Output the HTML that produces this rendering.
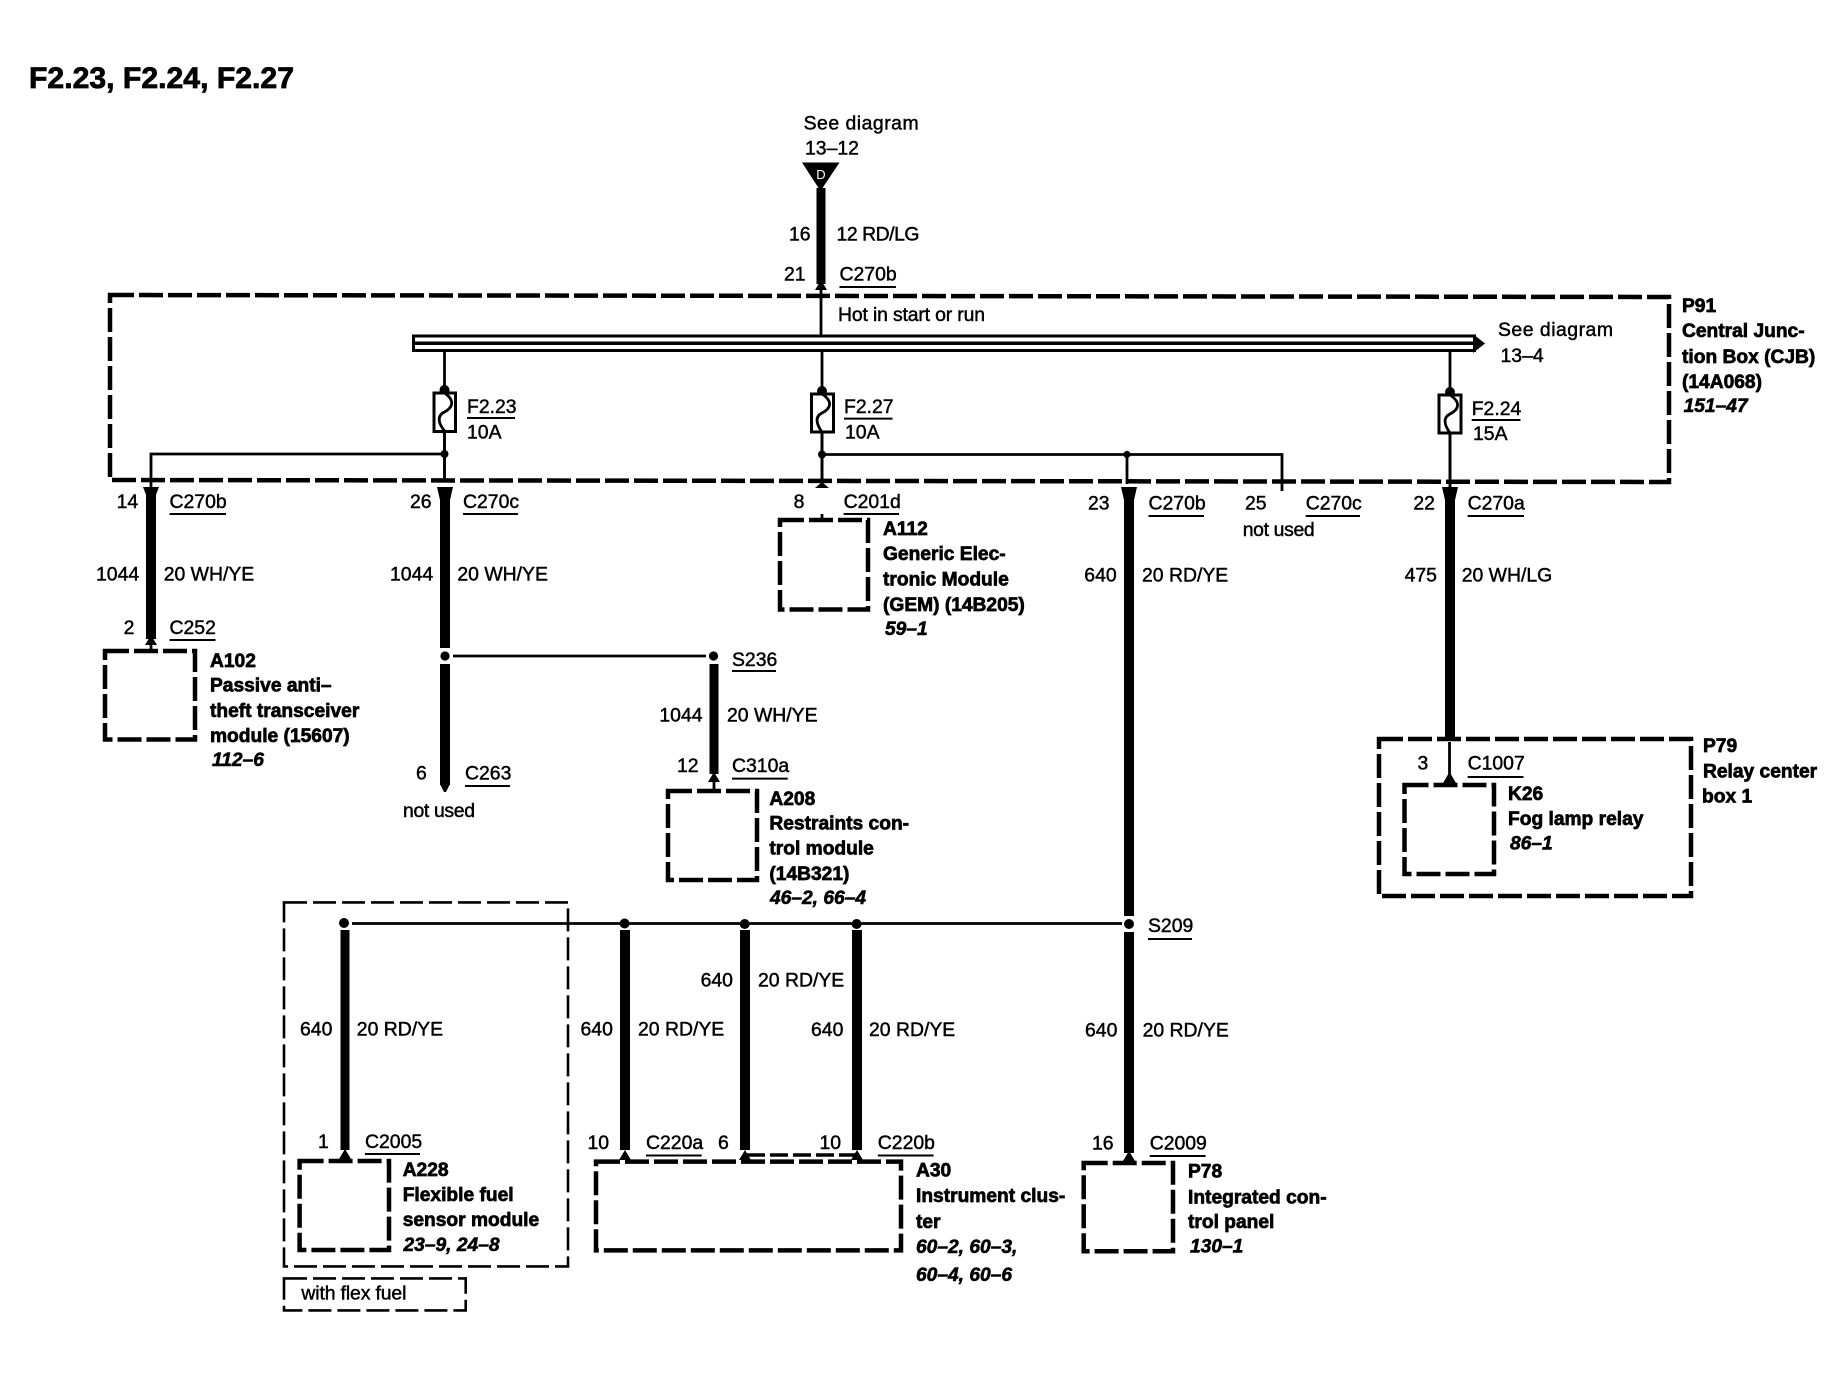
<!DOCTYPE html>
<html><head><meta charset="utf-8"><title>F2.23, F2.24, F2.27</title>
<style>
html,body{margin:0;padding:0;background:#fff;width:1846px;height:1392px;overflow:hidden}
svg{display:block}
text{font-family:"Liberation Sans",sans-serif;font-size:19.4px;fill:#000;stroke:#000;stroke-width:.45}
.b{font-weight:bold;font-size:19.2px;stroke-width:.7}
.i{font-weight:bold;font-style:italic;font-size:19.2px;stroke-width:.6}
.box{fill:none;stroke:#000;stroke-width:4.5;stroke-dasharray:24 5}
.thin{fill:none;stroke:#000;stroke-width:2.6;stroke-dasharray:23 6}
.w{stroke:#000;stroke-width:2.8;fill:none}
.t{stroke:#000;stroke-width:10;fill:none}
.u{stroke:#000;stroke-width:2;fill:none}
</style></head><body>
<svg width="1846" height="1392" viewBox="0 0 1846 1392" xmlns="http://www.w3.org/2000/svg">
<rect width="1846" height="1392" fill="#fff"/>

<text x="29" y="88" textLength="265" lengthAdjust="spacingAndGlyphs" style="font-size:30px;font-weight:bold;stroke-width:.8">F2.23, F2.24, F2.27</text>

<!-- dashed boxes -->
<path class="box" d="M110,295 L1669,297 L1669,482 L110,480 Z"/>
<rect class="box" x="105" y="651" width="90" height="88.5"/>
<rect class="box" x="780" y="520" width="88" height="89.5"/>
<rect class="box" x="668" y="791" width="89" height="89"/>
<rect class="box" x="1379" y="739" width="312" height="157"/>
<rect class="box" x="1404.5" y="785" width="89.5" height="89"/>
<rect class="box" x="299.6" y="1161" width="89.4" height="89"/>
<rect class="box" x="596" y="1161.6" width="305" height="88.8"/>
<rect class="box" x="1083.7" y="1163" width="89.3" height="88.3"/>
<rect class="thin" x="284" y="902.4" width="284" height="364"/>
<rect class="thin" x="284" y="1278.4" width="181.7" height="32"/>
<path d="M747,1155 H860" stroke="#000" stroke-width="3.5" stroke-dasharray="18 5" fill="none"/>

<!-- top feed -->
<polygon points="802,162.5 839.5,162.5 820.5,191" fill="#000"/>
<text x="821" y="179" text-anchor="middle" style="font-size:13px;fill:#fff;stroke:none">D</text>
<path class="t" d="M821,188 V284" style="stroke-width:9"/>
<polygon points="815,290 821,280 827,290" fill="#000"/>
<path class="w" d="M821,288 V336"/>

<!-- bus -->
<rect x="413.5" y="336" width="1061" height="14.5" fill="#fff" stroke="#000" stroke-width="3"/>
<path d="M413,343.2 H1476" stroke="#000" stroke-width="3.5" fill="none"/>
<polygon points="1473,334 1485,343.5 1473,353" fill="#000"/>

<!-- F2.23 -->
<path class="w" d="M444.5,351 V480"/>
<circle cx="444.5" cy="390" r="5" fill="#000"/>
<rect x="434" y="393" width="21.5" height="38.5" fill="#fff" stroke="#000" stroke-width="3"/>
<path class="w" d="M444.5,393 C456,401 452,408 444.5,412 C436,416 439,424 444.5,431"/>
<path class="w" d="M444.5,431 V480"/>
<circle cx="444.5" cy="454" r="4" fill="#000"/>
<path class="w" d="M444.5,454 H151 V488"/>
<polygon points="143,487 159,487 154,500 148,500" fill="#000"/>
<path class="t" d="M151,495 V639"/>
<polygon points="145,645 151,635 157,645" fill="#000"/>
<path class="w" d="M151,642 V651"/>
<polygon points="437,487 453,487 450,500 440,500" fill="#000"/>
<path class="t" d="M445,495 V648"/>
<circle cx="445" cy="656" r="4.6" fill="#000"/>
<path class="t" d="M445,664 V785"/>
<polygon points="440,784 450,784 446,792 444,792" fill="#000"/>
<path class="w" d="M453,656 H706"/>
<circle cx="713.5" cy="656" r="4.6" fill="#000"/>
<path class="t" d="M714,664 V774" style="stroke-width:9"/>
<polygon points="708,782 714,772 720,782" fill="#000"/>
<path class="w" d="M714,780 V791"/>

<!-- F2.27 -->
<path class="w" d="M822,351 V480"/>
<circle cx="822" cy="391" r="5" fill="#000"/>
<rect x="811.5" y="394" width="22" height="38" fill="#fff" stroke="#000" stroke-width="3"/>
<path class="w" d="M822,394 C834,402 830,409 822,413 C814,417 817,425 822,432"/>
<path class="w" d="M822,432 V484"/>
<circle cx="822" cy="454.5" r="4" fill="#000"/>
<path class="w" d="M822,454.5 H1282 V491"/>
<circle cx="1127" cy="454.5" r="3.6" fill="#000"/>
<path class="w" d="M1127,454.5 V484"/>
<polygon points="815,488 829,488 822,482" fill="#000"/>
<path class="w" d="M822,514 V521"/>
<polygon points="1121,487 1137,487 1134,500 1124,500" fill="#000"/>
<path class="t" d="M1129,495 V916"/>
<circle cx="1129" cy="924" r="5" fill="#000"/>
<path class="t" d="M1129,932 V1153"/>
<polygon points="1123,1161 1129,1151 1135,1161" fill="#000"/>

<!-- F2.24 -->
<path class="w" d="M1450,351 V488"/>
<circle cx="1450" cy="392" r="5" fill="#000"/>
<rect x="1439" y="395" width="22" height="38" fill="#fff" stroke="#000" stroke-width="3"/>
<path class="w" d="M1450,395 C1462,403 1458,410 1450,414 C1442,418 1445,426 1450,433"/>
<path class="w" d="M1450,433 V488"/>
<polygon points="1442,487 1458,487 1455,500 1445,500" fill="#000"/>
<path class="t" d="M1450,495 V740"/>
<path class="w" d="M1449.5,742 V780"/>
<polygon points="1443,783 1449.5,772 1456,783" fill="#000"/>

<!-- S209 bus -->
<path class="w" d="M352,923.5 H1122"/>
<circle cx="344" cy="923" r="5" fill="#000"/>
<circle cx="624.6" cy="923.5" r="5" fill="#000"/>
<circle cx="744.7" cy="924" r="5" fill="#000"/>
<circle cx="856.6" cy="924" r="5" fill="#000"/>
<path class="t" d="M345,930 V1150" style="stroke-width:9"/>
<path class="t" d="M625,930 V1150"/>
<path class="t" d="M745,930 V1150"/>
<path class="t" d="M857,930 V1150"/>
<polygon points="339,1159 345,1149 351,1159" fill="#000"/>
<polygon points="619,1160 625,1150 631,1160" fill="#000"/>
<polygon points="739,1160 745,1150 751,1160" fill="#000"/>
<polygon points="851,1160 857,1150 863,1160" fill="#000"/>

<!-- underlines -->
<path class="u" d="M839.5,287H896 M169.5,514H226 M463,514H518 M169.5,640H215.5 M732,671H776 M467,418H515 M844,418.6H892.5 M1471.7,420H1520.5 M843.6,514H899 M1148.5,516H1204 M1305.7,516H1360 M1467.6,516H1524 M1467.6,777H1523.5 M1148,939H1192 M365,1154H420 M646,1155.5H701.7 M877.8,1155.5H933.6 M1149.7,1156H1205.6 M732,778.6H787.7 M465,786H510"/>

<!-- regular labels -->
<text x="803.6" y="129.6" textLength="115">See diagram</text>
<text x="805" y="154.5">13–12</text>
<text x="789" y="240.6">16</text>
<text x="836.5" y="240.6" textLength="83">12 RD/LG</text>
<text x="784" y="280.5">21</text>
<text x="839.5" y="280.5">C270b</text>
<text x="838" y="321" textLength="147">Hot in start or run</text>
<text x="1498" y="336" textLength="115">See diagram</text>
<text x="1500.5" y="362">13–4</text>
<text x="467" y="413">F2.23</text>
<text x="467" y="438.5">10A</text>
<text x="844" y="413">F2.27</text>
<text x="845" y="438.5">10A</text>
<text x="1471.7" y="415">F2.24</text>
<text x="1473" y="440">15A</text>
<text x="116.6" y="508">14</text>
<text x="169.5" y="508">C270b</text>
<text x="410" y="508">26</text>
<text x="463" y="508">C270c</text>
<text x="793.6" y="508">8</text>
<text x="843.6" y="508">C201d</text>
<text x="1088" y="509.6">23</text>
<text x="1148.5" y="509.6">C270b</text>
<text x="1245" y="509.6">25</text>
<text x="1305.7" y="509.6">C270c</text>
<text x="1242.7" y="536" textLength="72">not used</text>
<text x="1413.4" y="509.6">22</text>
<text x="1467.6" y="509.6">C270a</text>
<text x="96" y="580.6">1044</text>
<text x="163.7" y="580.6">20 WH/YE</text>
<text x="390" y="580.6">1044</text>
<text x="457.4" y="580.6">20 WH/YE</text>
<text x="1084.3" y="581.5">640</text>
<text x="1142" y="581.5">20 RD/YE</text>
<text x="1404.6" y="581.5">475</text>
<text x="1461.7" y="581.5">20 WH/LG</text>
<text x="123.6" y="634">2</text>
<text x="169.5" y="634">C252</text>
<text x="732" y="666">S236</text>
<text x="659.4" y="721.7">1044</text>
<text x="727" y="721.7">20 WH/YE</text>
<text x="677" y="772">12</text>
<text x="732" y="772">C310a</text>
<text x="416" y="779.5">6</text>
<text x="465" y="779.5">C263</text>
<text x="403" y="817" textLength="72">not used</text>
<text x="1417.5" y="769.7">3</text>
<text x="1467.6" y="769.7">C1007</text>
<text x="1148" y="932">S209</text>
<text x="700.6" y="986.3">640</text>
<text x="758" y="986.3">20 RD/YE</text>
<text x="300" y="1035.6">640</text>
<text x="356.8" y="1035.6">20 RD/YE</text>
<text x="580.5" y="1035.6">640</text>
<text x="638" y="1035.6">20 RD/YE</text>
<text x="811" y="1036">640</text>
<text x="869" y="1036">20 RD/YE</text>
<text x="1085" y="1036.5">640</text>
<text x="1142.6" y="1036.5">20 RD/YE</text>
<text x="318" y="1148">1</text>
<text x="365" y="1148">C2005</text>
<text x="587.5" y="1149">10</text>
<text x="646" y="1149">C220a</text>
<text x="718" y="1149">6</text>
<text x="819.5" y="1149">10</text>
<text x="877.8" y="1149">C220b</text>
<text x="1092" y="1149.6">16</text>
<text x="1149.7" y="1149.6">C2009</text>
<text x="301.4" y="1299.7" textLength="105">with flex fuel</text>

<!-- bold component labels -->
<text class="b" x="1682" y="312">P91</text>
<text class="b" x="1682" y="337">Central Junc-</text>
<text class="b" x="1682" y="363">tion Box (CJB)</text>
<text class="b" x="1682" y="388">(14A068)</text>
<text class="i" x="1683.6" y="412">151–47</text>

<text class="b" x="210" y="667">A102</text>
<text class="b" x="210" y="691.6">Passive anti–</text>
<text class="b" x="210" y="717">theft transceiver</text>
<text class="b" x="210" y="742">module (15607)</text>
<text class="i" x="212" y="766">112–6</text>

<text class="b" x="883" y="535">A112</text>
<text class="b" x="883" y="560">Generic Elec-</text>
<text class="b" x="883" y="585.5">tronic Module</text>
<text class="b" x="883" y="611">(GEM) (14B205)</text>
<text class="i" x="885" y="635">59–1</text>

<text class="b" x="769.4" y="805">A208</text>
<text class="b" x="769.4" y="829.6">Restraints con-</text>
<text class="b" x="769.4" y="854.5">trol module</text>
<text class="b" x="769.4" y="880">(14B321)</text>
<text class="i" x="770" y="904">46–2, 66–4</text>

<text class="b" x="1703" y="752">P79</text>
<text class="b" x="1703" y="777.7">Relay center</text>
<text class="b" x="1702" y="802.5">box 1</text>

<text class="b" x="1508" y="800">K26</text>
<text class="b" x="1508" y="825">Fog lamp relay</text>
<text class="i" x="1510" y="849.6">86–1</text>

<text class="b" x="402.7" y="1176">A228</text>
<text class="b" x="402.7" y="1201">Flexible fuel</text>
<text class="b" x="402.7" y="1226">sensor module</text>
<text class="i" x="403.5" y="1251">23–9, 24–8</text>

<text class="b" x="916" y="1176.7">A30</text>
<text class="b" x="916" y="1202">Instrument clus-</text>
<text class="b" x="916" y="1228">ter</text>
<text class="i" x="916" y="1253">60–2, 60–3,</text>
<text class="i" x="916" y="1281">60–4, 60–6</text>

<text class="b" x="1188" y="1177.6">P78</text>
<text class="b" x="1188" y="1203.4">Integrated con-</text>
<text class="b" x="1188" y="1228">trol panel</text>
<text class="i" x="1190" y="1252.6">130–1</text>
</svg>
</body></html>
